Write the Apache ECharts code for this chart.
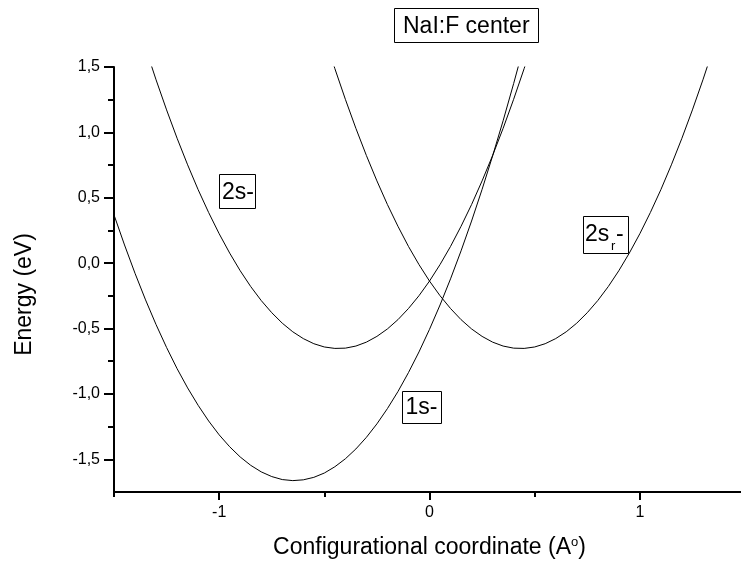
<!DOCTYPE html>
<html>
<head>
<meta charset="utf-8">
<script src="https://cdn.jsdelivr.net/npm/echarts@6/dist/echarts.min.js"></script>
<style>html,body{margin:0;padding:0;background:#fff}#c{width:741px;height:569px}</style>
</head>
<body>
<div id="c"></div>
<script>
// ---- data (x in steps of 0.05) ----
const x1s  = [-1.50,-1.45,-1.40,-1.35,-1.30,-1.25,-1.20,-1.15,-1.10,-1.05,-1.00,-0.95,-0.90,-0.85,-0.80,-0.75,-0.70,-0.65,-0.60,-0.55,-0.50,-0.45,-0.40,-0.35,-0.30,-0.25,-0.20,-0.15,-0.10,-0.05,0.00,0.05,0.10,0.15,0.20,0.25,0.30,0.35,0.40,0.45,0.50];
const y1s  = [0.369,0.139,-0.078,-0.281,-0.470,-0.645,-0.807,-0.954,-1.087,-1.207,-1.313,-1.404,-1.482,-1.546,-1.596,-1.632,-1.655,-1.663,-1.657,-1.638,-1.605,-1.557,-1.496,-1.421,-1.332,-1.229,-1.112,-0.982,-0.837,-0.679,-0.506,-0.320,-0.120,0.094,0.322,0.564,0.820,1.089,1.373,1.670,1.982];
const x2s  = [-1.40,-1.35,-1.30,-1.25,-1.20,-1.15,-1.10,-1.05,-1.00,-0.95,-0.90,-0.85,-0.80,-0.75,-0.70,-0.65,-0.60,-0.55,-0.50,-0.45,-0.40,-0.35,-0.30,-0.25,-0.20,-0.15,-0.10,-0.05,0.00,0.05,0.10,0.15,0.20,0.25,0.30,0.35,0.40,0.45,0.50];
const y2s  = [1.904,1.646,1.402,1.172,0.955,0.752,0.562,0.387,0.225,0.077,-0.058,-0.179,-0.286,-0.379,-0.459,-0.525,-0.577,-0.616,-0.641,-0.652,-0.650,-0.634,-0.604,-0.560,-0.503,-0.432,-0.347,-0.249,-0.137,-0.011,0.128,0.282,0.448,0.629,0.823,1.031,1.253,1.488,1.737];
const x2sr = [-0.50,-0.45,-0.40,-0.35,-0.30,-0.25,-0.20,-0.15,-0.10,-0.05,0.00,0.05,0.10,0.15,0.20,0.25,0.30,0.35,0.40,0.45,0.50,0.55,0.60,0.65,0.70,0.75,0.80,0.85,0.90,0.95,1.00,1.05,1.10,1.15,1.20,1.25,1.30,1.35,1.40];
const y2sr = [1.737,1.488,1.253,1.031,0.823,0.629,0.448,0.282,0.128,-0.011,-0.137,-0.249,-0.347,-0.432,-0.503,-0.560,-0.604,-0.634,-0.650,-0.652,-0.641,-0.616,-0.577,-0.525,-0.459,-0.379,-0.286,-0.179,-0.058,0.077,0.225,0.387,0.562,0.752,0.955,1.172,1.402,1.646,1.904];

const xTicks = [-1, 0, 1];
const xMinor = [-1.5, -0.5, 0.5, 1.5];
const yTicks = [-1.5, -1.0, -0.5, 0.0, 0.5, 1.0, 1.5];
const yMinor = [-1.25, -0.75, -0.25, 0.25, 0.75, 1.25];

const titleText = 'NaI:F center';
const xName = 'Configurational coordinate (A{sup|o})';
const yName = 'Energy (eV)';

const FONT = '"Liberation Sans", Arial, sans-serif';
const pairs = (xs, ys) => xs.map((x, i) => [x, ys[i]]);

const chart = echarts.init(document.getElementById('c'), null, {renderer: 'canvas'});

const lineSeries = (name, data) => ({
  name, type: 'line', data, showSymbol: false, symbol: 'none', smooth: false, clip: true,
  lineStyle: {color: '#000', width: 1}, z: 2
});

function box(rect, texts) {
  return {
    type: 'group', z: 100,
    children: [{type: 'rect', shape: rect, style: {fill: '#fff', stroke: '#000', lineWidth: 1}}]
      .concat(texts.map(t => ({
        type: 'text', x: t.x, y: t.y,
        style: {text: t.text, fontSize: t.size || 23, fontFamily: FONT, fill: '#000', align: 'left', verticalAlign: 'middle'}
      })))
  };
}

const option = {
  animation: false,
  backgroundColor: '#fff',
  textStyle: {fontFamily: FONT},
  grid: {left: 114, right: -4, top: 67, bottom: 77, outerBoundsMode: 'none', containLabel: false},
  xAxis: [
    {
      type: 'value', min: -1.5, max: 1.5, interval: 0.5, position: 'bottom',
      name: xName, nameLocation: 'middle', nameGap: 44,
      nameTextStyle: {fontSize: 23, color: '#000', fontFamily: FONT,
        rich: {sup: {fontSize: 13, color: '#000', fontFamily: FONT, verticalAlign: 'top'}}},
      axisLine: {show: true, onZero: false, lineStyle: {color: '#000', width: 2}},
      axisTick: {show: true, customValues: xTicks, length: 8, lineStyle: {color: '#000', width: 2}},
      axisLabel: {show: true, customValues: xTicks, fontSize: 16, color: '#000', margin: 13,
        formatter: v => String(v)},
      splitLine: {show: false}
    },
    {
      type: 'value', min: -1.5, max: 1.5, interval: 0.5, position: 'bottom',
      axisLine: {show: false, onZero: false},
      axisTick: {show: true, customValues: xMinor, length: 5, lineStyle: {color: '#000', width: 2}},
      axisLabel: {show: false}, splitLine: {show: false}
    }
  ],
  yAxis: [
    {
      type: 'value', min: -1.75, max: 1.5, interval: 0.25, position: 'left',
      name: yName, nameLocation: 'middle', nameGap: 78,
      nameTextStyle: {fontSize: 23, color: '#000', fontFamily: FONT, padding: [0, 30, 0, 0]},
      axisLine: {show: true, onZero: false, lineStyle: {color: '#000', width: 2}},
      axisTick: {show: true, customValues: yTicks, length: 10, lineStyle: {color: '#000', width: 2}},
      axisLabel: {show: true, customValues: yTicks, fontSize: 16, color: '#000', margin: 14,
        formatter: v => v.toFixed(1).replace('.', ',')},
      splitLine: {show: false}
    },
    {
      type: 'value', min: -1.75, max: 1.5, interval: 0.25, position: 'left',
      axisLine: {show: false, onZero: false},
      axisTick: {show: true, customValues: yMinor, length: 6, lineStyle: {color: '#000', width: 2}},
      axisLabel: {show: false}, splitLine: {show: false}
    }
  ],
  series: [
    lineSeries('1s-', pairs(x1s, y1s)),
    lineSeries('2s-', pairs(x2s, y2s)),
    lineSeries('2sr-', pairs(x2sr, y2sr))
  ],
  graphic: [
    box({x: 394.5, y: 8.5, width: 144, height: 34}, [{text: titleText, x: 403, y: 26.5}]),
    box({x: 219.5, y: 174.5, width: 36, height: 34}, [{text: '2s-', x: 222, y: 193}]),
    box({x: 402.5, y: 391.5, width: 39, height: 32}, [{text: '1s-', x: 405.5, y: 408}]),
    box({x: 583.5, y: 216.5, width: 45, height: 37}, [
      {text: '2s', x: 585, y: 235},
      {text: 'r', x: 611, y: 246, size: 13},
      {text: '-', x: 616, y: 235}
    ])
  ]
};
chart.setOption(option);
</script>
</body>
</html>
